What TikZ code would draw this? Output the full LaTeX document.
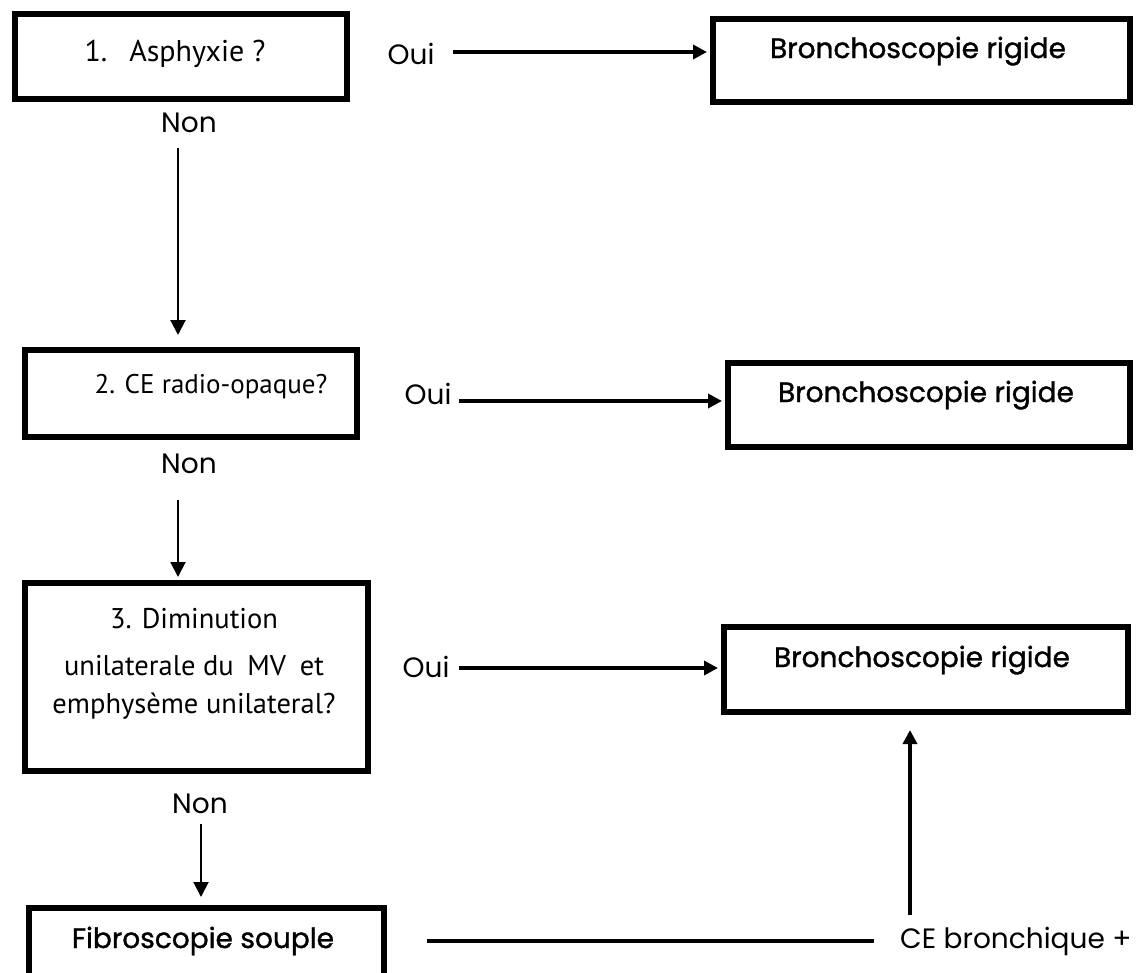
\documentclass[tikz,border=0pt]{standalone}
\usepackage{fontspec}
\usetikzlibrary{arrows.meta}
\newfontfamily\gothic{Poppins}
\newfontfamily\gothicb{Poppins}[FakeBold=1.2]
\newfontfamily\myriad{PT Sans}
\begin{document}
\begin{tikzpicture}[x=1pt,y=-1pt,
  box/.style={draw,line width=6pt,inner sep=0pt,anchor=north west},
  lab/.style={font=\gothic\fontsize{28}{34}\selectfont,inner sep=0pt,anchor=base},
  res/.style={font=\gothicb\fontsize{28}{34}\selectfont,inner sep=0pt,anchor=base},
  q/.style={font=\myriad\fontsize{27}{38}\selectfont,inner sep=0pt,anchor=base},
  qbig/.style={q,font=\myriad\fontsize{30}{38}\selectfont},
  qmid/.style={q,font=\myriad\fontsize{28.5}{38}\selectfont},
  arr/.style={-{Triangle[length=14pt,width=14pt]},line width=3.5pt},
  thinarr/.style={-{Triangle[length=15pt,width=15pt]},line width=2pt}]
\clip (0,0) rectangle (1138,972);
\fill[white] (0,0) rectangle (1138,972);
% boxes (outer edge minus half stroke)
\node[box,minimum width=332pt,minimum height=85pt] (b1) at (12,11) {};
\node[box,minimum width=332pt,minimum height=87pt] (b2) at (22,347) {};
\node[box,minimum width=343pt,minimum height=188pt] (b3) at (22,580) {};
\node[box,minimum width=355pt,minimum height=90pt] (b4) at (26,905) {};
\node[box,minimum width=417pt,minimum height=83pt] (r1) at (710,16) {};
\node[box,minimum width=402pt,minimum height=84pt] (r2) at (725,360) {};
\node[box,minimum width=404pt,minimum height=85pt] (r3) at (721,624) {};
% texts
\node[qbig] (t1) at (175,61) {1.\hspace{22pt}Asphyxie ?};
\node[q] (t2) at (211,393) {2. CE radio-opaque?};
\node[qmid] (t3a) at (194,628) {3. Diminution};
\node[qmid] (t3b) at (194,675) {unilaterale du\hspace{6pt} MV\hspace{6pt} et};
\node[qmid] (t3c) at (194,713) {emphysème unilateral?};
\node[res] (t4) at (203,948) {Fibroscopie souple};
\node[res] (s1) at (918,58) {Bronchoscopie rigide};
\node[res] (s2) at (926,402) {Bronchoscopie rigide};
\node[res] (s3) at (922,667) {Bronchoscopie rigide};
\node[lab] (o1) at (411,64) {Oui};
\node[lab] (o2) at (428,404) {Oui};
\node[lab] (o3) at (426,677) {Oui};
\node[lab] (n1) at (189,132) {Non};
\node[lab] (n2) at (189,473) {Non};
\node[lab] (n3) at (200,813) {Non};
\node[lab,anchor=base west] (ce) at (900,948) {CE bronchique +};
% connector anchors
\coordinate (p1) at (453,52);
\coordinate (p2) at (459,401);
\coordinate (p3) at (459,668);
\coordinate (d1) at (178,148);
\coordinate (d2) at (178,500);
\coordinate (d3) at (201,824);
\coordinate (u1) at (910,915);
\coordinate (h1) at (427,941);
\coordinate (h2) at (874,941);
% connectors
\draw[arr,shorten >=3pt] (p1) -- (p1 -| r1.west);
\draw[arr,shorten >=3pt] (p2) -- (p2 -| r2.west);
\draw[arr,shorten >=3pt] (p3) -- (p3 -| r3.west);
\draw[thinarr,shorten >=12pt] (d1) -- (d1 |- b2.north);
\draw[thinarr,shorten >=3pt] (d2) -- (d2 |- b3.north);
\draw[thinarr,shorten >=8pt] (d3) -- (d3 |- b4.north);
\draw[arr,line width=4pt,shorten >=15pt] (u1) -- (u1 |- r3.south);
\draw[line width=4pt] (h1) -- (h2);
\end{tikzpicture}
\end{document}
